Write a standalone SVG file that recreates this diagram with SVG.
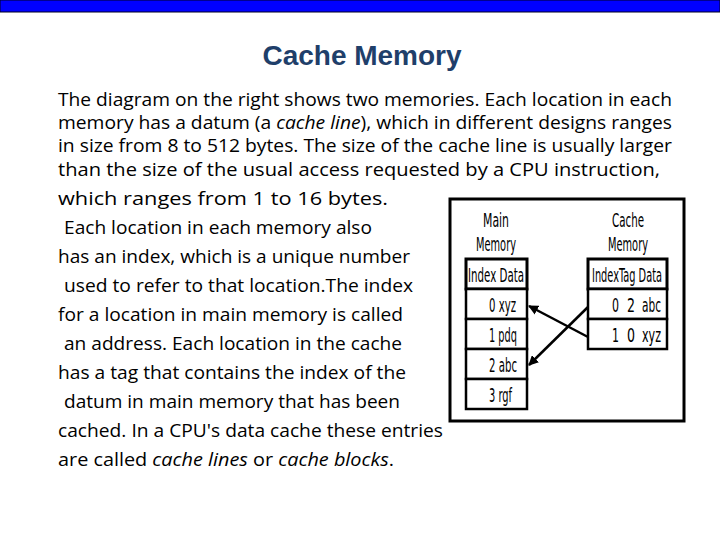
<svg xmlns="http://www.w3.org/2000/svg" width="720" height="540" viewBox="0 0 720 540">
<style>
.b{font-family:"Open Sans","Liberation Sans",sans-serif;font-size:17.5px;fill:#000}
.d{font-family:"DejaVu Sans",sans-serif;font-size:19px;fill:#000}
.c{fill:#fff;stroke:#000;stroke-width:2.5}
.h{fill:#fff;stroke:#000;stroke-width:3}
</style>
<defs><marker id="a" markerWidth="10" markerHeight="10" refX="9" refY="5" orient="auto" markerUnits="userSpaceOnUse"><path d="M0,0L10,5L0,10z" fill="#000"/></marker></defs>
<rect x="0" y="0" width="720" height="12" fill="#0000ff" stroke="#000020" stroke-width="1"/>
<text x="362" y="65" text-anchor="middle" font-family="Liberation Sans,sans-serif" font-weight="bold" font-size="28" fill="#1f3f6a">Cache Memory</text>
<g id="body">
<text class="b" x="58" y="106" textLength="614" lengthAdjust="spacingAndGlyphs">The diagram on the right shows two memories. Each location in each</text>
<text class="b" x="58" y="129" textLength="614" lengthAdjust="spacingAndGlyphs">memory has a datum (a <tspan font-style="italic">cache line</tspan>), which in different designs ranges</text>
<text class="b" x="58" y="152" textLength="614" lengthAdjust="spacingAndGlyphs">in size from 8 to 512 bytes. The size of the cache line is usually larger</text>
<text class="b" x="58" y="176" textLength="602" lengthAdjust="spacingAndGlyphs">than the size of the usual access requested by a CPU instruction,</text>
<text class="b" x="58" y="205" textLength="330" lengthAdjust="spacingAndGlyphs">which ranges from 1 to 16 bytes.</text>
<text class="b" x="64" y="234" textLength="308" lengthAdjust="spacingAndGlyphs">Each location in each memory also</text>
<text class="b" x="58" y="263" textLength="352" lengthAdjust="spacingAndGlyphs">has an index, which is a unique number</text>
<text class="b" x="64" y="292" textLength="349" lengthAdjust="spacingAndGlyphs">used to refer to that location.The index</text>
<text class="b" x="58" y="321" textLength="345" lengthAdjust="spacingAndGlyphs">for a location in main memory is called</text>
<text class="b" x="64" y="350" textLength="338" lengthAdjust="spacingAndGlyphs">an address. Each location in the cache</text>
<text class="b" x="58" y="379" textLength="348" lengthAdjust="spacingAndGlyphs">has a tag that contains the index of the</text>
<text class="b" x="64" y="408" textLength="336" lengthAdjust="spacingAndGlyphs">datum in main memory that has been</text>
<text class="b" x="58" y="437" textLength="385" lengthAdjust="spacingAndGlyphs">cached. In a CPU's data cache these entries</text>
<text class="b" x="58" y="466" textLength="336" lengthAdjust="spacingAndGlyphs">are called <tspan font-style="italic">cache lines</tspan> or <tspan font-style="italic">cache blocks</tspan>.</text>
</g>
<rect x="450" y="199" width="234" height="222" fill="#fff" stroke="#000" stroke-width="3"/>
<g id="main">
<text class="d" x="496" y="227" text-anchor="middle" textLength="26" lengthAdjust="spacingAndGlyphs">Main</text>
<text class="d" x="496" y="251" text-anchor="middle" textLength="40" lengthAdjust="spacingAndGlyphs">Memory</text>
<rect class="h" x="466" y="259" width="61" height="30"/>
<rect class="c" x="466" y="289" width="61" height="30"/>
<rect class="c" x="466" y="319" width="61" height="30"/>
<rect class="c" x="466" y="349" width="61" height="30"/>
<rect class="c" x="466" y="379" width="61" height="30"/>
<text class="d" x="496" y="282" text-anchor="middle" textLength="56" lengthAdjust="spacingAndGlyphs">Index Data</text>
<text class="d" x="489" y="312" textLength="27" lengthAdjust="spacingAndGlyphs">0 xyz</text>
<text class="d" x="489" y="342" textLength="28" lengthAdjust="spacingAndGlyphs">1 pdq</text>
<text class="d" x="489" y="372" textLength="28" lengthAdjust="spacingAndGlyphs">2 abc</text>
<text class="d" x="489" y="402" textLength="23" lengthAdjust="spacingAndGlyphs">3 rgf</text>
</g>
<g id="cache">
<text class="d" x="628" y="227" text-anchor="middle" textLength="32" lengthAdjust="spacingAndGlyphs">Cache</text>
<text class="d" x="628" y="251" text-anchor="middle" textLength="40" lengthAdjust="spacingAndGlyphs">Memory</text>
<rect class="h" x="588" y="259" width="79" height="30"/>
<rect class="c" x="588" y="289" width="79" height="30"/>
<rect class="c" x="588" y="319" width="79" height="30"/>
<text class="d" x="627" y="282" text-anchor="middle" textLength="70" lengthAdjust="spacingAndGlyphs">IndexTag  Data</text>
<text class="d" x="612" y="312" textLength="7" lengthAdjust="spacingAndGlyphs">0</text>
<text class="d" x="627" y="312" textLength="8" lengthAdjust="spacingAndGlyphs">2</text>
<text class="d" x="642" y="312" textLength="19" lengthAdjust="spacingAndGlyphs">abc</text>
<text class="d" x="612" y="342" textLength="7" lengthAdjust="spacingAndGlyphs">1</text>
<text class="d" x="627" y="342" textLength="8" lengthAdjust="spacingAndGlyphs">0</text>
<text class="d" x="642" y="342" textLength="19" lengthAdjust="spacingAndGlyphs">xyz</text>
</g>
<g id="connectors" stroke="#000" stroke-width="2.5" fill="none">
<line x1="588" y1="307" x2="529" y2="365" marker-end="url(#a)"/>
<line x1="588" y1="337" x2="529" y2="306" marker-end="url(#a)"/>
</g>
</svg>
